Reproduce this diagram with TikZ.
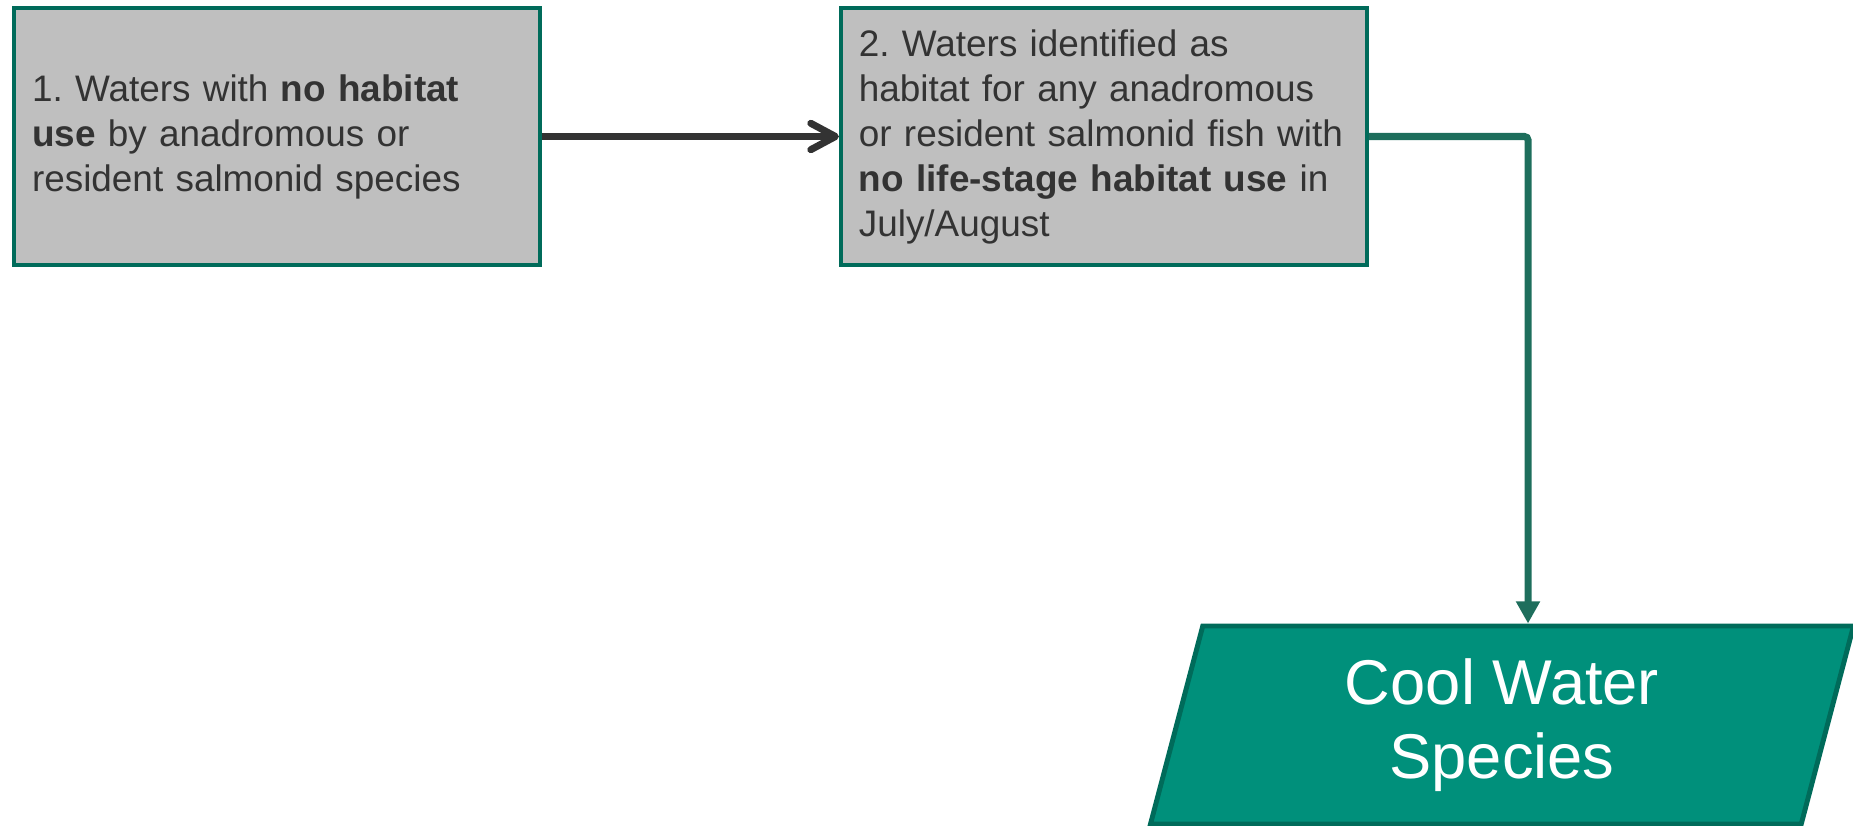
\documentclass[tikz,border=0pt]{standalone}
\usepackage{fontspec}
\setmainfont{Liberation Sans}
\usepackage{tikz}
\usetikzlibrary{positioning,arrows.meta,shapes.geometric}
\definecolor{boxgray}{HTML}{BFBFBF}
\definecolor{edgeteal}{HTML}{006B5A}
\definecolor{lineteal}{HTML}{1E6E5C}
\definecolor{fillteal}{HTML}{00907B}
\definecolor{textgray}{HTML}{333333}
\frenchspacing

\begin{document}
\begin{tikzpicture}[
	stepbox/.style={rectangle, draw=edgeteal, fill=boxgray, line width=1.1pt,
		text=textgray, text width=4.9cm, inner xsep=0.18cm, align=left,
		minimum height=2.57cm, font=\fontsize{10.5}{12.8}\selectfont},
	outbox/.style={trapezium, trapezium left angle=71.5, trapezium right angle=108.5,
		trapezium stretches body=true, draw=edgeteal, fill=fillteal, line width=1.4pt,
		text=white, align=center, minimum width=7.03cm, minimum height=1.98cm,
		font=\fontsize{18}{21}\selectfont},
	greyarrow/.style={draw=textgray, line width=2pt,
		-{Straight Barb[length=7pt,width=7.5pt,line cap=round,line join=round]}},
	tealarrow/.style={draw=lineteal, line width=2pt, rounded corners=1pt,
		-{Triangle[length=6.3pt,width=6.5pt]}}
]
	\useasboundingbox (0,0) rectangle (18.53,-8.26);
	% the two steps
	\node[stepbox] (waters1) at (2.77,-1.365) {1. Waters with \textbf{no habitat}\\
		\textbf{use} by anadromous or\\resident salmonid species};
	\node[stepbox, right=2.97cm of waters1] (waters2) {2. Waters identified as\\
		habitat for any anadromous\\or resident salmonid fish with\\
		\textbf{no life-stage habitat use} in\\July/August};
	% result
	\node[outbox] (coolwater) at (15.02,-7.25) {Cool Water\\Species};
	\coordinate (bend) at (15.28,-1.365);
	\draw[greyarrow] (waters1) -- (waters2);
	\draw[tealarrow] (waters2.east) -- (bend) -- (bend |- coolwater.north);
\end{tikzpicture}
\end{document}
